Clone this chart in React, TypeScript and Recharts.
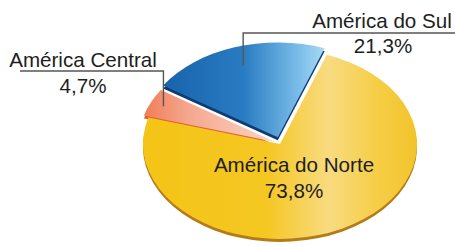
import React from 'react';
import { PieChart, Pie, Cell } from 'recharts';

const regions = ['América do Sul', 'América Central', 'América do Norte'];
const shares = [21.3, 4.7, 73.8];
const data = regions.map((name, i) => ({ name, value: shares[i] }));

const topFills = ['url(#gBlue)', 'url(#gPink)', 'url(#gYellow)'];
const sideFills = ['#0B3C73', '#E2622F', '#B47C18'];
const explode = [7, 5, 0];

const CX = 280;
const CY = 144;
const R = 137;
const RATIO = 0.693;
const DEPTH = 3;
const START = 70;
const RAD = Math.PI / 180;

function pt(cx: number, cy: number, r: number, ang: number, k = 1): [number, number] {
  return [cx + r * k * Math.cos(-ang * RAD), cy + r * k * RATIO * Math.sin(-ang * RAD)];
}

function sectorPath(cx: number, cy: number, r: number, s: number, e: number) {
  const [x1, y1] = pt(cx, cy, r, s);
  const [x2, y2] = pt(cx, cy, r, e);
  const large = Math.abs(e - s) > 180 ? 1 : 0;
  const sweep = e > s ? 0 : 1;
  return `M${cx},${cy} L${x1},${y1} A${r},${r * RATIO} 0 ${large} ${sweep} ${x2},${y2} Z`;
}

function idxOf(props: any) {
  const n = props.name ?? props.payload?.name;
  return regions.indexOf(n);
}

function offsetFor(i: number, mid: number): [number, number] {
  const d = explode[i] ?? 0;
  return [d * Math.cos(-mid * RAD), d * Math.sin(-mid * RAD)];
}

const makeShape = (layer: 'side' | 'top') => (props: any) => {
  const { cx, cy, outerRadius, startAngle, endAngle } = props;
  const i = idxOf(props);
  const mid = (startAngle + endAngle) / 2;
  const [ox, oy] = offsetFor(i, mid);
  return (
    <g transform={`translate(${ox},${oy})`}>
      <path
        d={sectorPath(cx, cy, outerRadius, startAngle, endAngle)}
        fill={layer === 'top' ? topFills[i] : sideFills[i]}
        stroke="none"
      />
    </g>
  );
};

const fmt = (v: number) => `${v.toFixed(1).replace('.', ',')}%`;

const textStyle = {
  fontFamily: '"Liberation Sans", Arial, sans-serif',
  fontSize: 20.6,
  fill: '#1e1e1e',
};

const renderLabel = (props: any) => {
  const { cx, cy, outerRadius, midAngle } = props;
  const i = idxOf(props);
  const [ox, oy] = offsetFor(i, midAngle);
  if (i === 0) {
    const [px, py] = pt(cx, cy, outerRadius, midAngle, 0.8);
    const ex = px + ox;
    const ey = py + oy;
    return (
      <g>
        <polyline points={`455,33 ${ex},33 ${ex},${ey}`} fill="none" stroke="#555" strokeWidth={1.4} />
        <text x={382} y={28} textAnchor="middle" style={textStyle}>{regions[i]}</text>
        <text x={383} y={53} textAnchor="middle" style={textStyle}>{fmt(shares[i])}</text>
      </g>
    );
  }
  if (i === 1) {
    const [px, py] = pt(cx, cy, outerRadius, midAngle, 0.9);
    const ex = px + ox;
    const ey = py + oy;
    return (
      <g>
        <polyline points={`20,71 ${ex},71 ${ex},${ey}`} fill="none" stroke="#555" strokeWidth={1.4} />
        <text x={83} y={67} textAnchor="middle" style={textStyle}>{regions[i]}</text>
        <text x={83} y={93} textAnchor="middle" style={textStyle}>{fmt(shares[i])}</text>
      </g>
    );
  }
  return (
    <g>
      <text x={294} y={172} textAnchor="middle" style={textStyle}>{regions[i]}</text>
      <text x={294} y={198} textAnchor="middle" style={textStyle}>{fmt(shares[i])}</text>
    </g>
  );
};

export default function App() {
  return (
    <div style={{ position: 'absolute', left: 0, top: 0, width: 455, height: 246, background: '#fff' }}>
      <PieChart width={455} height={246} margin={{ top: 0, right: 0, bottom: 0, left: 0 }}>
        <defs>
          <linearGradient id="gYellow" x1="0" y1="0" x2="1" y2="0">
            <stop offset="0" stopColor="#F4C416" />
            <stop offset="0.45" stopColor="#F5C722" />
            <stop offset="0.68" stopColor="#F8DB80" />
            <stop offset="0.84" stopColor="#F6CF4A" />
            <stop offset="1" stopColor="#F2C42A" />
          </linearGradient>
          <linearGradient id="gBlue" x1="0" y1="0" x2="1" y2="0">
            <stop offset="0" stopColor="#1763AB" />
            <stop offset="0.5" stopColor="#2A7CC2" />
            <stop offset="0.85" stopColor="#7DBFEA" />
            <stop offset="1" stopColor="#A9D9F4" />
          </linearGradient>
          <linearGradient id="gPink" x1="0" y1="0" x2="1" y2="0">
            <stop offset="0" stopColor="#F07E56" />
            <stop offset="0.35" stopColor="#F5A891" />
            <stop offset="1" stopColor="#FBD5C6" />
          </linearGradient>
        </defs>
        <Pie
          data={data}
          dataKey="value"
          nameKey="name"
          cx={CX}
          cy={CY + DEPTH}
          outerRadius={R}
          startAngle={START}
          endAngle={START + 360}
          stroke="none"
          isAnimationActive={false}
          shape={makeShape('side')}
          label={false}
          labelLine={false}
        >
          {data.map((d, i) => (
            <Cell key={d.name} fill={sideFills[i]} />
          ))}
        </Pie>
        <Pie
          data={data}
          dataKey="value"
          nameKey="name"
          cx={CX}
          cy={CY}
          outerRadius={R}
          startAngle={START}
          endAngle={START + 360}
          stroke="none"
          isAnimationActive={false}
          shape={makeShape('top')}
          label={renderLabel}
          labelLine={false}
        >
          {data.map((d, i) => (
            <Cell key={d.name} fill={topFills[i]} />
          ))}
        </Pie>
      </PieChart>
    </div>
  );
}
